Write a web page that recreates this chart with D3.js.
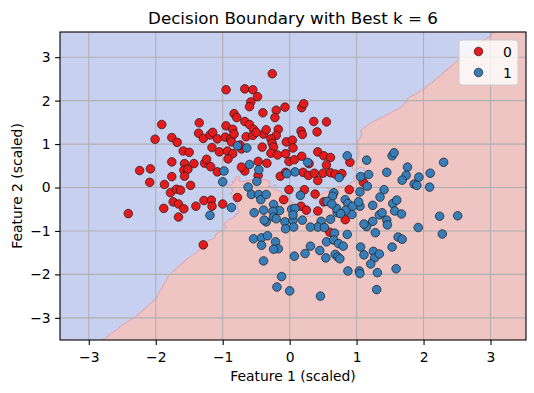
<!DOCTYPE html>
<html>
<head>
<meta charset="utf-8">
<script src="https://cdn.jsdelivr.net/npm/d3@7"></script>
<style>
  body { margin: 0; background: #fff; }
  text { font-family: "DejaVu Sans", sans-serif; fill: #000; }
</style>
</head>
<body>
<svg id="chart" width="534" height="393"></svg>
<script>
// POINTS OF CLASS 0 (red)  [feature 1, feature 2]
var class0 = [
  [-0.26,2.62],[-0.95,2.25],[-0.67,2.27],[-0.55,2.25],[-0.48,2.09],[-0.58,1.97],[-0.60,1.86],[-0.07,1.85],
  [0.18,1.84],[0.21,1.93],[-0.20,1.78],[-0.22,1.61],[-0.40,1.72],[-0.83,1.70],[-0.79,1.61],[0.36,1.52],
  [0.55,1.51],[-1.91,1.45],[-1.35,1.49],[-0.95,1.42],[-0.67,1.52],[-0.60,1.45],
  [-2.01,1.11],[-1.76,1.15],[-1.68,1.04],[-1.36,1.25],[-1.29,1.13],[-1.19,1.21],[-1.15,1.27],[-1.08,1.12],
  [-0.96,1.16],[-0.88,1.12],[-0.85,1.34],[-0.83,1.23],[-0.87,1.05],
  [0.17,1.30],[0.19,1.22],[0.41,1.28],[-0.54,1.34],[-0.39,1.23],[-0.35,1.33],[-0.17,1.34],[-0.20,1.20],
  [-0.28,1.12],[-0.05,1.05],[0.04,1.09],[-0.65,1.17],[-0.55,1.20],[-0.50,1.27],
  [-1.59,0.84],[-1.50,0.81],[-1.76,0.59],[-1.57,0.55],[-1.43,0.55],[-1.58,0.40],[-1.52,0.42],[-1.57,0.26],
  [-1.76,0.25],[-1.48,0.05],[-1.87,0.07],[-2.09,0.12],[-2.24,0.39],[-2.08,0.43],[-1.78,-0.12],[-1.69,-0.04],
  [-1.63,-0.06],[-1.74,-0.33],[-1.66,-0.38],[-1.58,-0.49],[-1.88,-0.48],[-1.66,-0.68],[-2.41,-0.60],[-1.40,-0.43],
  [-1.28,-0.30],[-1.17,-0.29],[-1.16,-0.43],[-1.00,-0.38],[-1.27,0.56],[-1.24,0.65],[-1.18,0.48],[-1.08,0.36],
  [-1.16,0.92],[-1.05,0.82],[-0.93,0.84],[-0.85,0.78],[-0.92,0.66],[-0.72,0.89],[-0.74,0.98],
  [-1.29,-1.32],[-0.78,-0.23],
  [-0.41,0.93],[-0.26,1.02],[-0.24,0.93],[-0.28,0.79],[-0.18,0.75],[-0.06,0.78],[0.05,0.91],[-0.01,0.60],
  [0.07,0.64],[0.18,0.72],[0.29,0.55],[0.42,0.82],[0.51,0.73],[0.61,0.69],[0.55,0.52],[0.20,0.35],
  [0.28,0.28],[0.37,0.33],[0.50,0.33],[0.61,0.34],[0.68,0.31],[0.78,0.32],[0.42,0.16],[-0.47,0.60],
  [-0.67,0.38],[-0.72,0.47],[-0.34,0.56],[-0.47,0.28],[-0.14,0.26],[-0.06,0.35],
  [-0.01,-0.05],[0.22,-0.05],[0.38,-0.15],[-0.09,-0.28],[0.51,-0.33],[0.17,-0.43],[0.25,-0.52],[0.42,-0.54],
  [0.89,-0.05],[0.83,-0.74],[0.60,-1.03],[0.90,0.58],[1.10,0.12]
];

// POINTS OF CLASS 1 (blue)
var class1 = [
  [-0.78,0.96],[-0.64,0.91],[-0.98,0.38],[-1.00,0.13],[-0.60,0.53],[-0.46,0.41],[-0.49,0.14],[-0.62,0.01],
  [-0.57,-0.16],[-0.46,-0.16],[-0.43,-0.28],[-0.35,-0.16],[-1.19,-0.64],[-0.87,-0.46],[-0.53,-0.58],[-0.39,-0.52],
  [-0.35,-0.79],[-0.54,-1.18],[-0.42,-1.16],[-0.42,-1.33],[-0.33,-1.11],
  [-0.24,-0.39],[-0.15,-0.53],[-0.25,-0.55],[-0.24,-0.68],[-0.20,-0.72],[-0.38,-0.75],
  [-0.07,-0.79],[0.05,-0.75],[0.06,-0.91],[-0.06,-0.95],[0.03,-0.50],[0.08,-0.48],[0.05,-0.63],
  [-0.21,-1.25],[-0.17,-1.41],[-0.24,-1.42],
  [0.27,0.58],[0.08,0.36],[-0.04,0.32],[0.16,-0.18],[0.66,-0.12],[0.64,-0.20],[0.56,-0.32],[0.71,-0.58],
  [0.61,-0.73],[0.47,-0.78],
  [0.86,0.73],[1.15,0.63],[0.74,0.23],[1.06,0.25],[1.18,0.30],[1.45,0.35],[1.53,0.73],[1.56,0.80],
  [1.76,0.47],[1.74,0.28],[1.68,0.17],[1.86,0.08],[1.90,0.05],[1.93,0.24],[2.10,0.33],[2.09,0.01],
  [2.30,0.58],[1.16,0.03],[1.05,-0.10],[1.41,-0.05],[1.35,-0.22],[1.24,-0.41],[1.05,-0.43],[0.93,-0.62],
  [1.34,-0.63],[1.38,-0.58],[1.54,-0.37],[1.60,-0.29],[1.57,-0.54],[1.67,-0.61],[1.45,-0.75],[1.46,-0.86],
  [1.24,-0.78],[1.15,-0.90],[1.11,-0.84],[1.28,-1.04],[1.92,-0.92],[2.24,-0.66],[2.51,-0.65],[2.28,-1.07],
  [1.62,-1.14],[1.68,-1.19],[1.53,-1.37],[1.06,-1.37],[1.25,-1.47],[1.11,-1.55],[1.27,-1.62],[1.34,-1.53],
  [0.83,-0.28],[0.87,-0.37],[0.84,-0.52],[0.70,-0.48],[0.63,-0.38],[0.76,-0.60],[0.94,-0.43],[1.03,-0.33],
  [0.42,-0.91],[0.52,-0.92],[0.31,-0.91],[0.19,-0.75],[0.67,-1.05],[0.86,-1.08],[0.55,-1.25],[0.66,-1.21],
  [0.73,-1.29],[0.80,-1.35],[0.45,-1.45],[0.31,-1.35],[0.23,-1.52],[0.07,-1.58],[0.54,-1.62],[0.68,-1.54],
  [0.72,-1.60],[0.75,-1.64],
  [-0.39,-1.69],[0.87,-1.92],[1.04,-1.92],[1.05,-1.98],[1.21,-1.76],[1.59,-1.87],[1.31,-1.96],[-0.12,-2.05],
  [-0.19,-2.29],[0.00,-2.38],[0.46,-2.50],[1.30,-2.35]
];

var classLabels = ["0", "1"];
var xTicks = [-3, -2, -1, 0, 1, 2, 3];
var yTicks = [-3, -2, -1, 0, 1, 2, 3];
var bestK = 6;
var xLimits = [-3.43, 3.53];
var yLimits = [-3.51, 3.58];

var pointColors = ["#e41a1c", "#377eb8"];
var regionColors = ["#c8d0f0", "#efc5c4"];

var W = 534, H = 393;
var plot = { left: 60, top: 32, right: 526, bottom: 340 };

var svg = d3.select("#chart");

var x = d3.scaleLinear().domain(xLimits).range([plot.left, plot.right]);
var y = d3.scaleLinear().domain(yLimits).range([plot.bottom, plot.top]);

svg.append("clipPath").attr("id", "clip")
  .append("rect")
  .attr("x", plot.left).attr("y", plot.top)
  .attr("width", plot.right - plot.left).attr("height", plot.bottom - plot.top);

// KNN CLASSIFICATION OF A MESH OVER THE PLOT
var train = class0.map(function (p) { return [p[0], p[1], 0]; })
  .concat(class1.map(function (p) { return [p[0], p[1], 1]; }));

var step = 0.02;
var x0 = xLimits[0] - step, y0 = yLimits[0] - step;
var nx = Math.ceil((xLimits[1] - x0) / step) + 2;
var ny = Math.ceil((yLimits[1] - y0) / step) + 2;
var grid = new Array(nx * ny);

for (var j = 0; j < ny; j++) {
  var gy = y0 + j * step;
  for (var i = 0; i < nx; i++) {
    var gx = x0 + i * step;
    var bestD = [], bestC = [];
    for (var t = 0; t < train.length; t++) {
      var dx = train[t][0] - gx, dy = train[t][1] - gy;
      var d = dx * dx + dy * dy;
      if (bestD.length < bestK || d < bestD[bestD.length - 1]) {
        var pos = bestD.length;
        while (pos > 0 && bestD[pos - 1] > d) pos--;
        bestD.splice(pos, 0, d);
        bestC.splice(pos, 0, train[t][2]);
        if (bestD.length > bestK) { bestD.pop(); bestC.pop(); }
      }
    }
    var votes1 = d3.sum(bestC);
    // ties go to class 0
    grid[j * nx + i] = votes1 > bestK - votes1 ? 0 : 1;
  }
}

var contour = d3.contours().size([nx, ny]).thresholds([0.5])(grid)[0];
var meshPath = d3.geoPath(d3.geoTransform({
  point: function (cx, cy) {
    this.stream.point(x(x0 + (cx - 0.5) * step), y(y0 + (cy - 0.5) * step));
  }
}));

var area = svg.append("g").attr("clip-path", "url(#clip)");
area.append("rect")
  .attr("x", plot.left).attr("y", plot.top)
  .attr("width", plot.right - plot.left).attr("height", plot.bottom - plot.top)
  .attr("fill", regionColors[1]);
area.append("path")
  .attr("d", meshPath(contour))
  .attr("fill", regionColors[0])
  .attr("stroke", "rgba(220,110,110,0.55)")
  .attr("stroke-width", 0.8);

// GRID
var gridG = svg.append("g");
xTicks.forEach(function (v) {
  gridG.append("line")
    .attr("x1", x(v)).attr("x2", x(v))
    .attr("y1", plot.top).attr("y2", plot.bottom)
    .attr("stroke", "#b0b0b0").attr("stroke-width", 1.1);
});
yTicks.forEach(function (v) {
  gridG.append("line")
    .attr("x1", plot.left).attr("x2", plot.right)
    .attr("y1", y(v)).attr("y2", y(v))
    .attr("stroke", "#b0b0b0").attr("stroke-width", 1.1);
});

// SCATTER
var pts = svg.append("g");
[class0, class1].forEach(function (arr, c) {
  pts.selectAll(null).data(arr).enter().append("circle")
    .attr("cx", function (d) { return x(d[0]); })
    .attr("cy", function (d) { return y(d[1]); })
    .attr("r", 4.3)
    .attr("fill", pointColors[c])
    .attr("stroke", "#1a1a1a")
    .attr("stroke-width", 0.7);
});

// AXES
var fmt = d3.format("d");
var xAxis = svg.append("g")
  .attr("transform", "translate(0," + plot.bottom + ")")
  .call(d3.axisBottom(x).tickValues(xTicks).tickFormat(fmt).tickSize(4.9).tickPadding(7));
var yAxis = svg.append("g")
  .attr("transform", "translate(" + plot.left + ",0)")
  .call(d3.axisLeft(y).tickValues(yTicks).tickFormat(fmt).tickSize(4.9).tickPadding(4.5));

[xAxis, yAxis].forEach(function (g) {
  g.select(".domain").remove();
  g.selectAll(".tick line").attr("stroke", "#000").attr("stroke-width", 1.1);
  g.selectAll(".tick text")
    .attr("fill", "#000")
    .style("font-family", "DejaVu Sans, sans-serif")
    .style("font-size", "13.9px");
});

// FRAME
svg.append("rect")
  .attr("x", plot.left).attr("y", plot.top)
  .attr("width", plot.right - plot.left).attr("height", plot.bottom - plot.top)
  .attr("fill", "none").attr("stroke", "#000").attr("stroke-width", 1.1);

// TITLE AND LABELS
var midX = (plot.left + plot.right) / 2;
svg.append("text")
  .attr("x", midX).attr("y", 24)
  .attr("text-anchor", "middle")
  .style("font-size", "16.7px")
  .text("Decision Boundary with Best k = " + bestK);

svg.append("text")
  .attr("x", midX).attr("y", 381)
  .attr("text-anchor", "middle")
  .style("font-size", "13.9px")
  .text("Feature 1 (scaled)");

svg.append("text")
  .attr("transform", "translate(22," + ((plot.top + plot.bottom) / 2) + ") rotate(-90)")
  .attr("text-anchor", "middle")
  .style("font-size", "13.9px")
  .text("Feature 2 (scaled)");

// LEGEND
var lw = 59, lh = 45;
var lx = plot.right - 8 - lw, ly = plot.top + 8;
var legend = svg.append("g").attr("transform", "translate(" + lx + "," + ly + ")");
legend.append("rect")
  .attr("width", lw).attr("height", lh).attr("rx", 3)
  .attr("fill", "rgba(255,255,255,0.8)")
  .attr("stroke", "#cccccc").attr("stroke-width", 1);
classLabels.forEach(function (lab, i) {
  legend.append("circle")
    .attr("cx", 19.5).attr("cy", 11.5 + i * 21)
    .attr("r", 4.3)
    .attr("fill", pointColors[i])
    .attr("stroke", "#1a1a1a").attr("stroke-width", 0.7);
  legend.append("text")
    .attr("x", 44).attr("y", 16.5 + i * 21)
    .style("font-size", "13.9px")
    .text(lab);
});
</script>
</body>
</html>
